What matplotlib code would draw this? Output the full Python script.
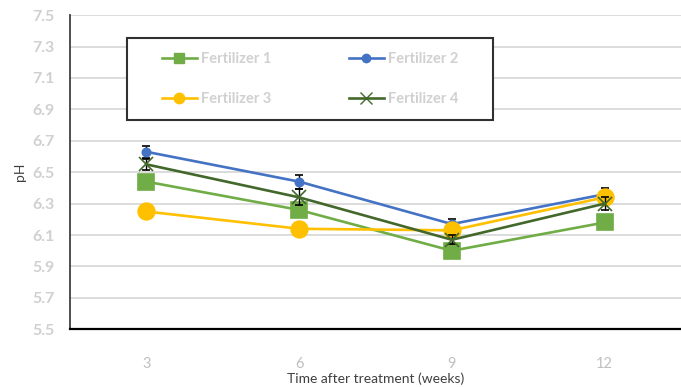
import matplotlib
matplotlib.use("Agg")
import matplotlib.pyplot as plt
from matplotlib.patches import Rectangle
from matplotlib.lines import Line2D

plt.rcParams['font.family'] = ['Lato', 'DejaVu Sans']

weeks = ["3", "6", "9", "12"]
f1 = [6.44, 6.26, 6.00, 6.18]
f2 = [6.63, 6.44, 6.17, 6.36]
f3 = [6.25, 6.14, 6.13, 6.34]
f4 = [6.55, 6.34, 6.07, 6.30]
f1_err = [0.02, 0.02, 0.02, 0.02]
f2_err = [0.04, 0.045, 0.03, 0.04]
f3_err = [0.02, 0.02, 0.02, 0.04]
f4_err = [0.035, 0.05, 0.03, 0.04]
labels = ["Fertilizer 1", "Fertilizer 2", "Fertilizer 3", "Fertilizer 4"]
yticks = [5.5, 5.7, 5.9, 6.1, 6.3, 6.5, 6.7, 6.9, 7.1, 7.3, 7.5]

fig = plt.figure(figsize=(6.81, 3.87), dpi=100)
ax = fig.add_axes([0.1028, 0.149, 0.8972, 0.812])

x = list(range(len(weeks)))
colors = ["#70AD47", "#4472C4", "#FFC000", "#43682B"]
markers = ["s", "o", "o", "x"]
sizes = [11, 6, 12, 10]
legend_sizes = [7, 6, 7.5, 8]
series = [f1, f2, f3, f4]
errs = [f1_err, f2_err, f3_err, f4_err]

for i, (vals, e) in enumerate(zip(series, errs)):
    z = 3 + 2 * i
    ax.errorbar(x, vals, yerr=e, fmt="none", ecolor="black", elinewidth=1,
                capsize=3, capthick=1.2, zorder=z)
    ax.plot(x, vals, lw=1.9, color=colors[i], marker=markers[i], ms=sizes[i],
            mew=1.2, zorder=z + 1)

ax.set_xlim(-0.5, 3.5)
ax.set_ylim(5.5, 7.5)
ax.set_yticks(yticks)
ax.set_yticklabels([f"{v:.1f}" for v in yticks])
ax.set_xticks(x)
ax.set_xticklabels(weeks)
ax.yaxis.grid(True, color="#d9d9d9", lw=1.3, zorder=0)
ax.set_axisbelow(True)
for s in ("top", "right"):
    ax.spines[s].set_visible(False)
ax.spines["left"].set_color("#404040")
ax.spines["left"].set_linewidth(1.3)
ax.spines["bottom"].set_color("black")
ax.spines["bottom"].set_linewidth(1.6)
ax.tick_params(axis="both", length=0)
ax.tick_params(axis="y", pad=11, labelsize=11.5, labelcolor="#d0d0d0")
ax.tick_params(axis="x", pad=20, labelsize=10.5, labelcolor="#bfbfbf")
for t in ax.get_yticklabels():
    t.set_fontweight("bold")

ax.set_xlabel("Time after treatment (weeks)", fontsize=10, color="#404040", labelpad=1)
ax.set_ylabel("pH", fontsize=10, color="#404040", labelpad=5)

# legend box
ax.add_patch(Rectangle((0.0933, 0.666), 0.599, 0.261, transform=ax.transAxes,
                       facecolor="white", edgecolor="#303030", lw=1.5, zorder=20))
proxies = [Line2D([], [], color=colors[i], lw=1.9, marker=markers[i],
                  ms=legend_sizes[i], mew=1.0) for i in range(4)]
order = [0, 2, 1, 3]  # row-major fill for a two-column layout
leg = ax.legend([proxies[i] for i in order], [labels[i] for i in order],
                ncol=2, loc="center",
                bbox_to_anchor=(0.0933 + 0.599 / 2, 0.666 + 0.261 / 2),
                frameon=False, fontsize=10.5, handlelength=2.4, handletextpad=0.3,
                columnspacing=5.3, labelspacing=1.8)
leg.set_zorder(21)
for t in leg.get_texts():
    t.set_color("#d0d0d0")
    t.set_fontweight("bold")

fig.savefig("out.png", dpi=100)
